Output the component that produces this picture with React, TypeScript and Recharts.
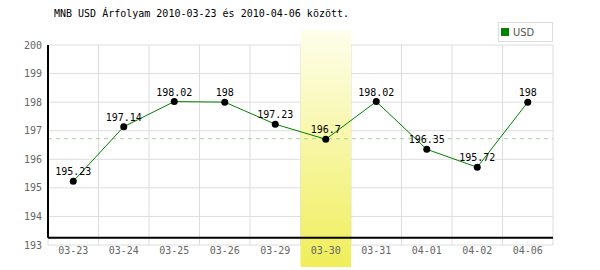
import React from "react";
import {
  LineChart,
  Line,
  XAxis,
  YAxis,
  CartesianGrid,
  ReferenceLine,
  ReferenceArea,
  LabelList,
  Legend,
} from "recharts";

const dates = ["03-23", "03-24", "03-25", "03-26", "03-29", "03-30", "03-31", "04-01", "04-02", "04-06"];
const usdRates = [195.23, 197.14, 198.02, 198, 197.23, 196.7, 198.02, 196.35, 195.72, 198];
const yTicks = [193, 194, 195, 196, 197, 198, 199, 200];
const averageRate = 196.72;
const highlightDate = "03-30";

const data = dates.map((d, i) => ({ date: d, USD: usdRates[i] }));

const mono = "'DejaVu Sans Mono', monospace";
const tickStyle = { fontSize: 10, fill: "#666", fontFamily: mono };

// vertical grid lines sit on the category edges, not the centres
const slotEdges = ({ xAxis, offset }: any) => {
  const s = xAxis && xAxis.scale;
  if (typeof s === "function" && typeof s.bandwidth === "function") {
    const starts = dates.map((d) => s(d));
    return starts.concat(starts[starts.length - 1] + s.bandwidth());
  }
  const w = offset.width / dates.length;
  return dates.map((_, i) => offset.left + i * w).concat(offset.left + offset.width);
};

export default function App() {
  return (
    <div style={{ position: "absolute", left: 0, top: 0, width: 600, height: 270, background: "#fff" }}>
      <div style={{ position: "absolute", left: 54, top: 8, fontFamily: mono, fontSize: 10, color: "#000" }}>
        MNB USD Árfolyam 2010-03-23 és 2010-04-06 között.
      </div>
      <LineChart width={600} height={270} data={data} margin={{ top: 45, right: 47, left: 0, bottom: 5 }}>
        <defs>
          <linearGradient id="band" x1="0" y1="0" x2="0" y2="1">
            <stop offset="0%" stopColor="#fefeec" />
            <stop offset="100%" stopColor="#f0ee5a" />
          </linearGradient>
        </defs>
        <CartesianGrid stroke="#ddd" strokeWidth={1} verticalCoordinatesGenerator={slotEdges} />
        <ReferenceLine y={averageRate} stroke="#a8cfa0" strokeDasharray="4 4" />
        <ReferenceArea
          x1={highlightDate}
          x2={highlightDate}
          y1={192.23}
          y2={200.52}
          ifOverflow="visible"
          fill="url(#band)"
          fillOpacity={1}
          stroke="none"
        />
        <ReferenceLine y={193.25} stroke="#000" strokeWidth={2} ifOverflow="visible" />
        <ReferenceLine
          segment={[{ x: dates[0], y: 193.25 }, { x: dates[0], y: 200 }]}
          position="start"
          stroke="#000"
          strokeWidth={2}
        />
        <XAxis
          dataKey="date"
          scale="band"
          height={20}
          axisLine={false}
          tickLine={false}
          tickSize={0}
          tickMargin={2}
          tick={tickStyle}
          interval={0}
        />
        <YAxis
          domain={[193, 200]}
          ticks={yTicks}
          width={48}
          axisLine={false}
          tickLine={false}
          tickSize={0}
          tickMargin={6}
          tick={tickStyle}
          interval={0}
        />
        <Legend
          layout="vertical"
          verticalAlign="middle"
          align="center"
          iconType="square"
          iconSize={8}
          formatter={(v) => <span style={{ color: "#555", fontSize: 11, fontFamily: "'Liberation Sans Narrow', 'DejaVu Sans Condensed', sans-serif" }}>{v}</span>}
          wrapperStyle={{
            position: "absolute",
            left: 498,
            top: 22,
            width: 55,
            height: 20,
            border: "1px solid #ddd",
            boxSizing: "border-box",
            lineHeight: "16px",
            paddingLeft: 2,
            textAlign: "left",
          }}
        />
        <Line
          dataKey="USD"
          stroke="#008000"
          strokeWidth={1}
          dot={{ r: 3.5, fill: "#000", stroke: "#000", strokeWidth: 0 }}
          activeDot={false}
          isAnimationActive={false}
        >
          <LabelList dataKey="USD" position="top" offset={6} style={{ fontSize: 10, fontFamily: mono, fill: "#000" }} />
        </Line>
      </LineChart>
    </div>
  );
}
